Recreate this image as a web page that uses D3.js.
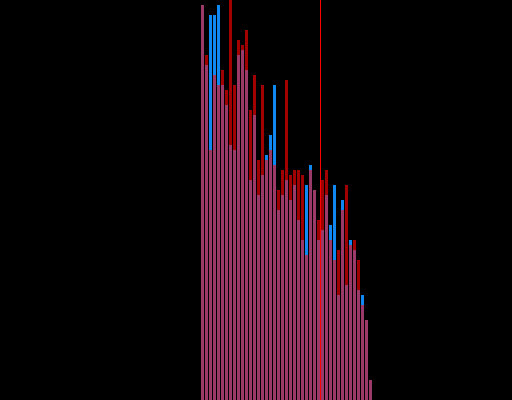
<!DOCTYPE html>
<html>
<head>
<meta charset="utf-8">
<script src="https://cdn.jsdelivr.net/npm/d3@7"></script>
<style>
  html, body { margin: 0; padding: 0; background: #000; }
  svg { display: block; }
</style>
</head>
<body>
<svg id="chart" width="512" height="400"></svg>
<script>
// Bins (left edges) and counts for two overlaid series
const bins = d3.range(50, 93);
const seriesA = [79,67,77,77,79,63,59,51,50,69,70,66,44,57,41,45,49,53,63,38,41,44,40,43,36,32,43,47,42,32,34,41,35,43,21,40,23,32,30,22,21,16,4];
const seriesB = [79,69,50,65,63,66,62,80,63,72,71,74,58,65,48,63,48,50,47,42,46,64,45,46,46,45,29,46,42,36,44,46,32,28,30,38,43,31,32,28,19,16,4];
const threshold = [80];

const W = 512, H = 400;
const colA = "#0f88f2", colB = "#a00000", colBoth = "#9b3a68", colLine = "#ff0000";

const svg = d3.select("#chart");
svg.append("rect").attr("width", W).attr("height", H).attr("fill", "#000");

const x = d3.scaleLinear().domain([0, 128]).range([0, W]);
const y = d3.scaleLinear().domain([0, 80]).range([H, 0]);

const data = bins.map((b, i) => ({ bin: b, a: seriesA[i], b: seriesB[i] }));

// larger series first, coloured by which is larger
svg.append("g").selectAll("rect").data(data).join("rect")
  .attr("x", d => x(d.bin) + 1)
  .attr("width", d => x(d.bin + 1) - x(d.bin) - 1)
  .attr("y", d => y(Math.max(d.a, d.b)))
  .attr("height", d => H - y(Math.max(d.a, d.b)))
  .attr("fill", d => d.a > d.b ? colA : (d.b > d.a ? colB : colBoth))
  .attr("shape-rendering", "crispEdges");

// overlap
svg.append("g").selectAll("rect").data(data).join("rect")
  .attr("x", d => x(d.bin) + 1)
  .attr("width", d => x(d.bin + 1) - x(d.bin) - 1)
  .attr("y", d => y(Math.min(d.a, d.b)))
  .attr("height", d => H - y(Math.min(d.a, d.b)))
  .attr("fill", colBoth)
  .attr("shape-rendering", "crispEdges");

// threshold line
svg.append("g").selectAll("line").data(threshold).join("line")
  .attr("x1", d => x(d) + 0.5).attr("x2", d => x(d) + 0.5)
  .attr("y1", 0).attr("y2", H)
  .attr("stroke", colLine).attr("stroke-width", 1);
</script>
</body>
</html>
